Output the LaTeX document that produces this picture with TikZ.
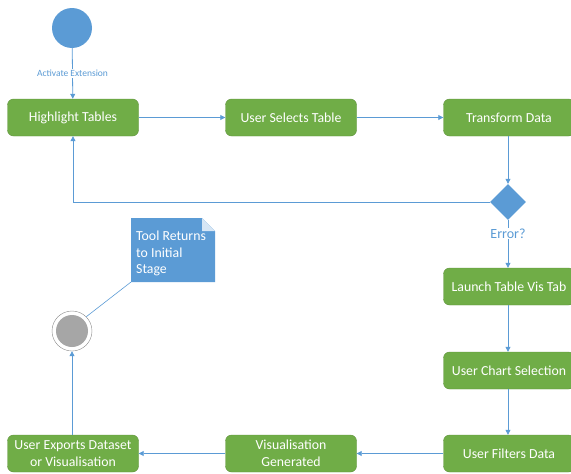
\documentclass[tikz,border=0pt]{standalone}
\usepackage{fontspec}
\setmainfont{Carlito}
\usetikzlibrary{arrows.meta,shapes.geometric}
\definecolor{actgreen}{HTML}{70AD47}
\definecolor{flowblue}{HTML}{5B9BD5}
\tikzset{
  act/.style={fill=actgreen, draw=actgreen!85!black, line width=0.4pt, rounded corners=6pt,
    minimum width=131pt, minimum height=37pt, text=white, align=center,
    font=\fontsize{13.8}{17.5}\selectfont, inner sep=1pt},
  flow/.style={draw=flowblue, line width=0.8pt, -{Triangle[length=5pt,width=5pt]}},
}
\begin{document}
\begin{tikzpicture}[x=1pt,y=-1pt]
  \useasboundingbox (0,0) rectangle (571,474);
  % Nodes
  \node[circle, fill=flowblue, minimum size=40pt, inner sep=0pt] (start) at (72,28) {};
  \node[act] (highlight) at (73,117.5) {Highlight Tables};
  \node[act] (selects) at (291,117.5) {User Selects Table};
  \node[act] (transform) at (509,117.5) {Transform Data};
  \node[diamond, fill=flowblue, minimum size=36pt, inner sep=0pt] (error) at (508,202) {};
  \node[act] (launch) at (509,286.5) {Launch Table Vis Tab};
  \node[act] (chart) at (509,370.5) {User Chart Selection};
  \node[act] (filters) at (509,453.5) {User Filters Data};
  \node[act] (generated) at (291,453.5) {Visualisation\\Generated};
  \node[act] (exports) at (73,453.5) {User Exports Dataset\\or Visualisation};
  \node[circle, draw=black!45, fill=white, minimum size=40pt, inner sep=0pt] (finish) at (72,331) {};
  \fill[black!35] (finish) circle (16pt);

  % Note
  \coordinate (noteA) at (131,218);
  \coordinate (noteB) at (202,218);
  \coordinate (noteC) at (215,231);
  \coordinate (noteD) at (215,282);
  \coordinate (noteE) at (131,282);
  \fill[flowblue] (noteA) -- (noteB) -- (noteC) -- (noteD) -- (noteE) -- cycle;
  \fill[flowblue!25] (noteB) -- (noteC) -- (202,231) -- cycle;
  \node[text=white, align=left, anchor=north west, font=\fontsize{13.8}{16.5}\selectfont, inner sep=0pt]
    (note) at (136,231) {Tool Returns\\to Initial\\Stage};

  % Drawing
  \draw[flow] (start) -- (highlight)
    node[midway, fill=white, text=flowblue, font=\fontsize{9.5}{11}\selectfont, inner sep=1pt] {Activate Extension};
  \draw[flow] (highlight) -- (selects);
  \draw[flow] (selects) -- (transform);
  \draw[flow] (transform.south -| error) -- (error);
  \draw[flow] (error.west) -| (highlight.south);
  \draw[flow] (error) -- (launch.north -| error)
    node[pos=0.28, fill=white, text=flowblue, font=\fontsize{14}{16}\selectfont, inner sep=1pt] {Error?};
  \draw[flow] (launch.south -| error) -- (chart.north -| error);
  \draw[flow] (chart.south -| error) -- (filters.north -| error);
  \draw[flow] (filters) -- (generated);
  \draw[flow] (generated) -- (exports);
  \draw[flow] (exports.north -| finish) -- (finish);
  \draw[flowblue, line width=0.6pt] (noteE) -- (finish.north east);
\end{tikzpicture}
\end{document}
